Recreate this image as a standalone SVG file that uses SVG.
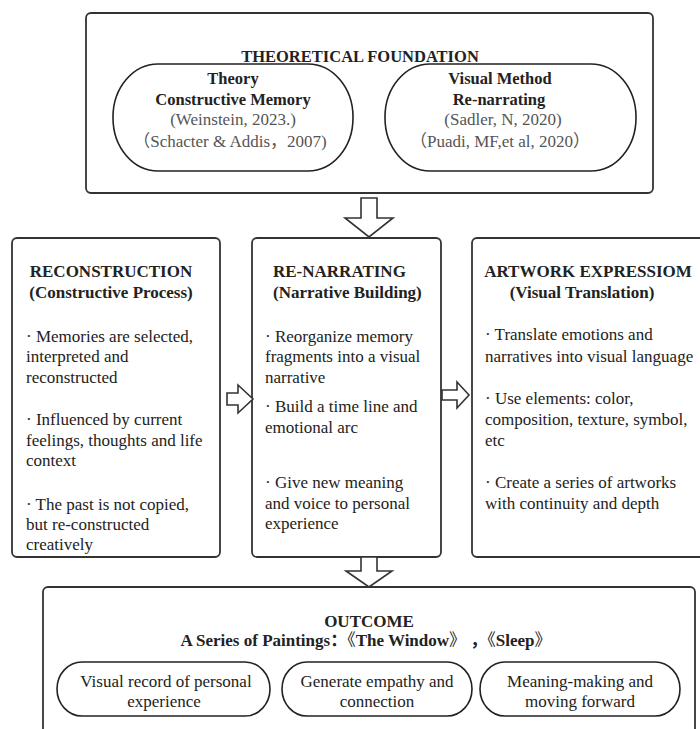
<svg xmlns="http://www.w3.org/2000/svg" width="700" height="729" viewBox="0 0 700 729">
<style>
.box{fill:#fff;stroke:#333;stroke-width:1.8}
.pill{fill:#fff;stroke:#222;stroke-width:1.6}
.arr{fill:#fff;stroke:#333;stroke-width:1.6;stroke-linejoin:miter}
text{font-family:"Liberation Serif","Noto Sans CJK SC",serif;fill:#222}
.h{font-weight:bold;font-size:17px}
.t{font-weight:bold;font-size:16.5px}
.b{font-size:17px}
.c{font-size:17px;fill:#555}
.m{text-anchor:middle}
</style>
<rect width="700" height="729" fill="#fff"/>
<g id="foundation">
<rect class="box" x="86" y="13" width="567" height="180" rx="5"/>
<text class="t m" x="360" y="62">THEORETICAL FOUNDATION</text>
</g>
<g id="theory">
<rect class="pill" x="113" y="64" width="240" height="107" rx="45" ry="53"/>
<text class="t m" x="233" y="84">Theory</text>
<text class="t m" x="233" y="105">Constructive Memory</text>
<text class="c m" x="233" y="125">(Weinstein, 2023.)</text>
<text class="c m" x="230" y="147">（Schacter &amp; Addis，2007)</text>
</g>
<g id="method">
<rect class="pill" x="385" y="64" width="251" height="107" rx="45" ry="53"/>
<text class="t m" x="500" y="84">Visual Method</text>
<text class="t m" x="499" y="105">Re-narrating</text>
<text class="c m" x="503" y="125">(Sadler, N, 2020)</text>
<text class="c m" x="500" y="147">（Puadi, MF,et al, 2020）</text>
</g>
<g id="reconstruction">
<rect class="box" x="12" y="238" width="208" height="319" rx="5"/>
<text class="h m" x="111" y="277">RECONSTRUCTION</text>
<text class="h m" x="111" y="298">(Constructive Process)</text>
<text class="b" x="26" y="342">· Memories are selected,</text>
<text class="b" x="26" y="362">interpreted and</text>
<text class="b" x="26" y="383">reconstructed</text>
<text class="b" x="26" y="425">· Influenced by current</text>
<text class="b" x="26" y="446">feelings, thoughts and life</text>
<text class="b" x="26" y="466">context</text>
<text class="b" x="26" y="510">· The past is not copied,</text>
<text class="b" x="26" y="530">but re-constructed</text>
<text class="b" x="26" y="550">creatively</text>
</g>
<g id="renarrating">
<rect class="box" x="252" y="238" width="189" height="319" rx="5"/>
<text class="h" x="273" y="277">RE-NARRATING</text>
<text class="h" x="273" y="298">(Narrative Building)</text>
<text class="b" x="265" y="342">· Reorganize memory</text>
<text class="b" x="265" y="362">fragments into a visual</text>
<text class="b" x="265" y="383">narrative</text>
<text class="b" x="265" y="412">· Build a time line and</text>
<text class="b" x="265" y="433">emotional arc</text>
<text class="b" x="265" y="488">· Give new meaning</text>
<text class="b" x="265" y="509">and voice to personal</text>
<text class="b" x="265" y="529">experience</text>
</g>
<g id="artwork">
<rect class="box" x="472" y="238" width="240" height="319" rx="5"/>
<text class="h m" x="588" y="277">ARTWORK EXPRESSIOM</text>
<text class="h m" x="582" y="298">(Visual Translation)</text>
<text class="b" x="485" y="340">· Translate emotions and</text>
<text class="b" x="485" y="362">narratives into visual language</text>
<text class="b" x="485" y="404">· Use elements: color,</text>
<text class="b" x="485" y="425">composition, texture, symbol,</text>
<text class="b" x="485" y="446">etc</text>
<text class="b" x="485" y="488">· Create a series of artworks</text>
<text class="b" x="485" y="509">with continuity and depth</text>
</g>
<g id="outcome">
<rect class="box" x="43" y="587" width="652" height="160" rx="5"/>
<text class="h m" x="369" y="627">OUTCOME</text>
<text class="h m" x="366" y="646">A Series of Paintings：<tspan font-weight="normal">《</tspan>The Window<tspan font-weight="normal">》</tspan> ，<tspan font-weight="normal">《</tspan>Sleep<tspan font-weight="normal">》</tspan></text>
</g>
<g id="outcome1">
<rect class="pill" x="57" y="662" width="213" height="54" rx="25" ry="27"/>
<text class="b m" x="166" y="687">Visual record of personal</text>
<text class="b m" x="164" y="707">experience</text>
</g>
<g id="outcome2">
<rect class="pill" x="282" y="662" width="190" height="54" rx="25" ry="27"/>
<text class="b m" x="377" y="687">Generate empathy and</text>
<text class="b m" x="377" y="707">connection</text>
</g>
<g id="outcome3">
<rect class="pill" x="480" y="662" width="200" height="54" rx="25" ry="27"/>
<text class="b m" x="580" y="687">Meaning-making and</text>
<text class="b m" x="580" y="707">moving forward</text>
</g>
<g id="connectors">
<polygon class="arr" points="361,198 377,198 377,218 393,218 369,237 345,218 361,218"/>
<polygon class="arr" points="227,393 238,393 238,385 253,399 238,413 238,405 227,405"/>
<polygon class="arr" points="442,390 457,390 457,382 469,395 457,408 457,400 442,400"/>
<polygon class="arr" points="361,557 377,557 377,571 392,571 369,587 346,571 361,571"/>
</g>
</svg>
